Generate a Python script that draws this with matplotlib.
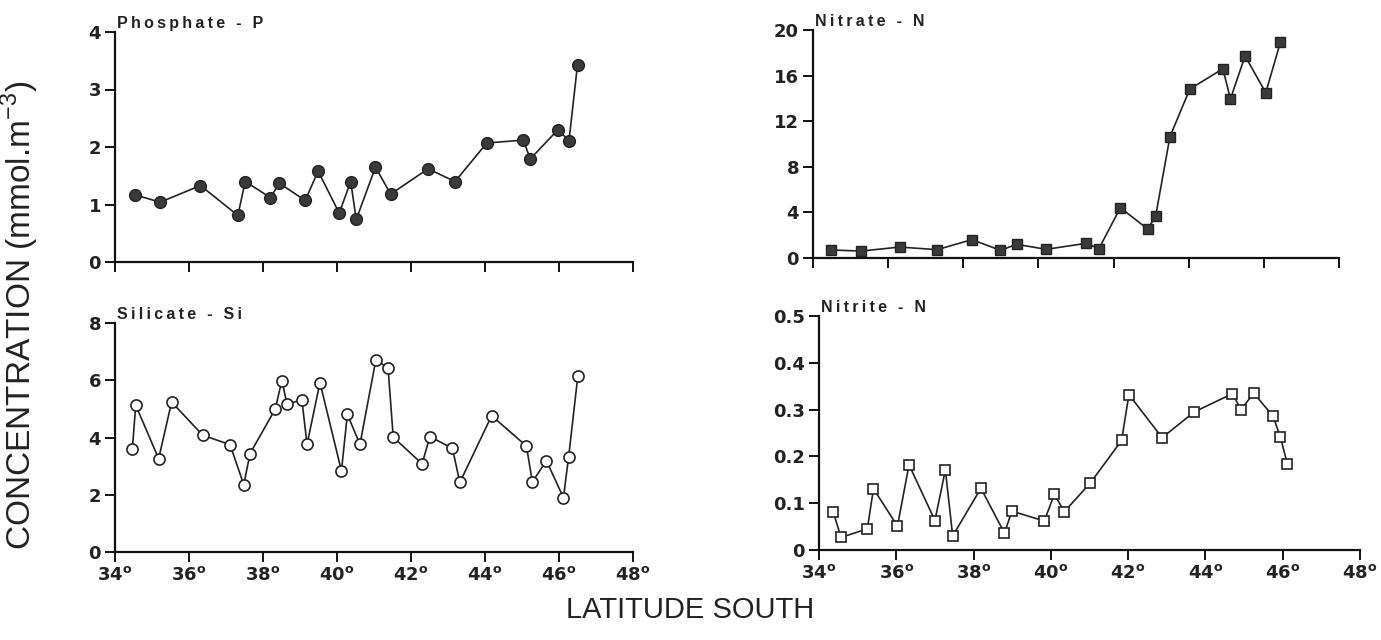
import matplotlib
matplotlib.use("Agg")
import matplotlib.pyplot as plt

plt.rcParams['font.family'] = ['Liberation Sans', 'DejaVu Sans']

# latitude (deg S) and concentration
phos_lat = [34.53, 35.22, 36.31, 37.32, 37.52, 38.20, 38.44, 39.14, 39.49, 40.06, 40.37,
            40.52, 41.04, 41.45, 42.46, 43.19, 44.05, 45.04, 45.22, 45.97, 46.27, 46.50]
phos_val = [1.17, 1.04, 1.33, 0.81, 1.40, 1.12, 1.37, 1.07, 1.58, 0.85, 1.40,
            0.74, 1.65, 1.18, 1.62, 1.40, 2.07, 2.12, 1.79, 2.30, 2.11, 3.43]

nitrate_lat = [34.47, 35.29, 36.31, 37.30, 38.23, 38.99, 39.42, 40.21, 41.27, 41.61,
               42.18, 42.91, 43.12, 43.50, 44.03, 44.91, 45.11, 45.50, 46.05, 46.44]
nitrate_val = [0.70, 0.61, 0.96, 0.73, 1.61, 0.67, 1.20, 0.76, 1.29, 0.82,
               4.41, 2.54, 3.68, 10.64, 14.82, 16.60, 13.95, 17.72, 14.50, 18.92]

sil_lat = [34.47, 34.56, 35.18, 35.53, 36.37, 37.11, 37.48, 37.65, 38.33, 38.51, 38.65,
           39.05, 39.19, 39.54, 40.12, 40.28, 40.62, 41.05, 41.38, 41.52, 42.30, 42.51,
           43.12, 43.32, 44.18, 45.12, 45.28, 45.66, 46.12, 46.26, 46.51]
sil_val = [3.61, 5.13, 3.26, 5.24, 4.08, 3.75, 2.35, 3.44, 4.99, 5.99, 5.16,
           5.32, 3.76, 5.92, 2.83, 4.81, 3.76, 6.71, 6.43, 4.01, 3.08, 4.03,
           3.62, 2.43, 4.76, 3.70, 2.45, 3.19, 1.90, 3.32, 6.16]

nitrite_lat = [34.37, 34.57, 35.25, 35.41, 36.03, 36.33, 37.00, 37.27, 37.46, 38.19, 38.80,
               38.99, 39.83, 40.09, 40.35, 41.02, 41.83, 42.02, 42.88, 43.71, 44.70, 44.92,
               45.25, 45.75, 45.94, 46.12]
nitrite_val = [0.081, 0.027, 0.045, 0.131, 0.051, 0.182, 0.063, 0.171, 0.030, 0.132, 0.036,
               0.083, 0.062, 0.119, 0.082, 0.143, 0.234, 0.332, 0.240, 0.295, 0.334, 0.300,
               0.335, 0.286, 0.241, 0.184]

lat_ticks = [34, 36, 38, 40, 42, 44, 46, 48]
lat_labels = [r'%d$^{\mathregular{o}}$' % t for t in lat_ticks]

fig = plt.figure(figsize=(13.81, 6.4), dpi=100)
W, H = 1381.0, 640.0

def make_ax(x0, x1, ytop, ybot):
    return fig.add_axes([x0 / W, 1 - ybot / H, (x1 - x0) / W, (ybot - ytop) / H])

ax_p = make_ax(115, 633, 32, 262)
ax_n = make_ax(813, 1339, 30, 258)
ax_s = make_ax(115, 633, 323, 552)
ax_i = make_ax(819, 1360, 316, 550)

def spaced(s):
    # the original lettering is widely tracked
    return '\u2009'.join(s)

def style(ax, title, yticks, ylabels, show_x):
    for s in ['top', 'right']:
        ax.spines[s].set_visible(False)
    for s in ['left', 'bottom']:
        ax.spines[s].set_linewidth(1.6)
        ax.spines[s].set_color('#111111')
    ax.set_xlim(34, 48)
    ax.set_ylim(yticks[0], yticks[-1])
    ax.set_yticks(yticks)
    ax.set_yticklabels(ylabels, fontsize=13, fontweight='bold', family='DejaVu Sans',
                       color='#222222')
    ax.set_xticks(lat_ticks)
    if show_x:
        ax.set_xticklabels(lat_labels, fontsize=13, fontweight='bold', family='DejaVu Sans',
                           color='#222222')
    else:
        ax.set_xticklabels([])
    ax.tick_params(axis='both', direction='out', length=7, width=1.4, color='#111111', pad=3)
    ax.text(0.003, 1.005, spaced(title), transform=ax.transAxes, fontsize=11.5,
            fontweight='bold', va='bottom', ha='left', color='#222222')
    ax.patch.set_alpha(0)

ax_p.plot(phos_lat, phos_val, '-o', color='#222222', lw=1.2, ms=8.5,
          mfc='#3a3a3a', mec='#222222', clip_on=False)
style(ax_p, 'Phosphate - P', [0, 1, 2, 3, 4], ['0', '1', '2', '3', '4'], False)

ax_n.plot(nitrate_lat, nitrate_val, '-s', color='#222222', lw=1.2, ms=7,
          mfc='#3a3a3a', mec='#222222', clip_on=False)
style(ax_n, 'Nitrate - N', [0, 4, 8, 12, 16, 20], ['0', '4', '8', '12', '16', '20'], False)

ax_s.plot(sil_lat, sil_val, '-o', color='#222222', lw=1.2, ms=8,
          mfc='white', mec='#222222', mew=1.2, clip_on=False)
style(ax_s, 'Silicate - Si', [0, 2, 4, 6, 8], ['0', '2', '4', '6', '8'], True)

ax_i.plot(nitrite_lat, nitrite_val, '-s', color='#222222', lw=1.2, ms=7,
          mfc='white', mec='#222222', mew=1.2, clip_on=False)
style(ax_i, 'Nitrite - N', [0, 0.1, 0.2, 0.3, 0.4, 0.5],
      ['0', '0.1', '0.2', '0.3', '0.4', '0.5'], True)

fig.text(20 / W, 1 - 315 / H, r'CONCENTRATION (mmol.m$^{\mathregular{-3}}$)', rotation=90,
         fontsize=24, ha='center', va='center', color='#222222')
fig.text(690 / W, 1 - 610 / H, 'LATITUDE SOUTH', fontsize=21, ha='center', va='center',
         color='#222222')

fig.savefig('out.png', dpi=100, facecolor='white')
